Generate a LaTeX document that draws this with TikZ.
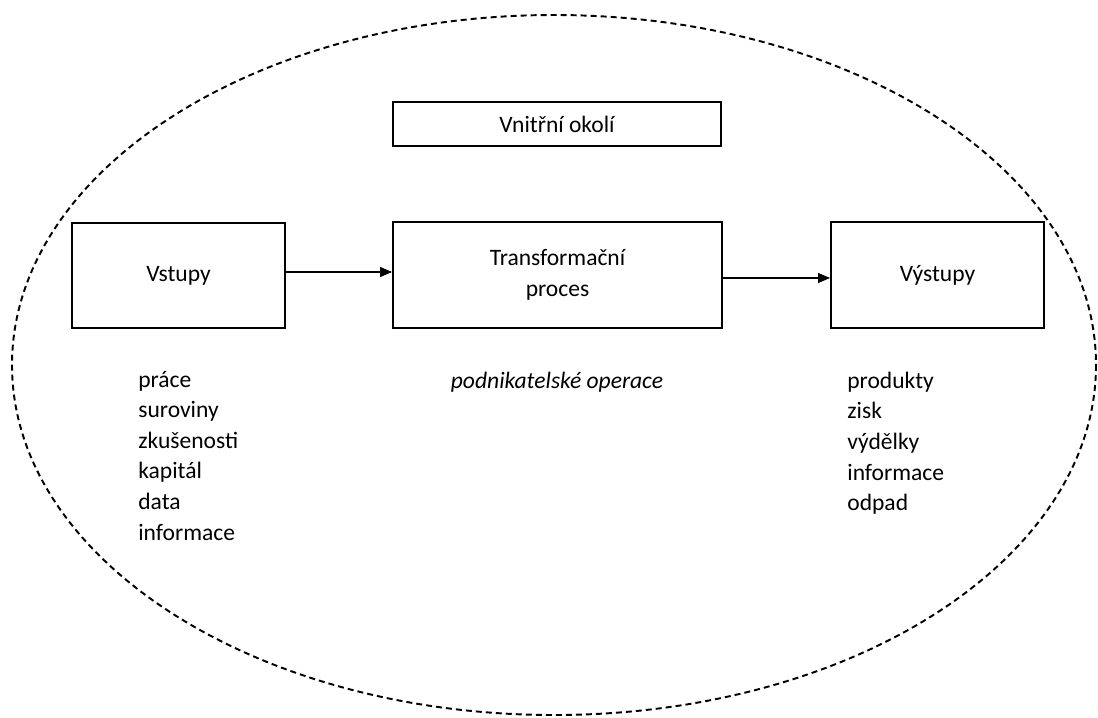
\documentclass[tikz,border=0pt]{standalone}
\usepackage{fontspec}
\setmainfont{Carlito}
\usetikzlibrary{arrows.meta}

\begin{document}
\begin{tikzpicture}[x=0.02cm, y=-0.02cm,
  font=\fontsize{13.4}{17.4}\selectfont,
  box/.style={draw, line width=1.1pt, inner sep=0pt, align=center},
  flow/.style={-{Triangle[length=0.24cm,width=0.2cm]}, line width=0.6pt},
  item/.style={inner sep=0pt, anchor=base west}]
    \useasboundingbox (0,0) rectangle (1098,717);
    % dashed border of the environment
    \draw[dash pattern=on 3.4pt off 2.3pt, line width=1.1pt] (554,365) ellipse [x radius=542, y radius=350];
    \node[box, minimum width=6.56cm, minimum height=0.88cm] (okoli) at (557,124) {Vnitřní okolí};
    \node[box, minimum width=4.26cm, minimum height=2.1cm] (vstupy) at (178.5,275.5) {Vstupy};
    \node[box, minimum width=6.58cm, minimum height=2.12cm] (proces) at (557.5,275) {Transformační\\proces};
    \node[box, minimum width=4.26cm, minimum height=2.12cm] (vystupy) at (937.5,275) {Výstupy};
    \draw[flow] ([yshift=0.07cm]vstupy.east) -- ([yshift=0.07cm]vstupy.east -| proces.west);
    \draw[flow] ([yshift=-0.06cm]proces.east) -- ([yshift=-0.06cm]proces.east -| vystupy.west);
    % lists under the boxes
    \foreach \t [count=\i from 0] in {práce,suroviny,zkušenosti,kapitál,data,informace}
      \node[item] (vst\i) at (138,387+30.6*\i) {\t};
    \node[inner sep=0pt, anchor=base, font=\fontsize{13.4}{17.4}\selectfont\itshape] (operace) at (557,388) {podnikatelské operace};
    \foreach \t [count=\i from 0] in {produkty,zisk,výdělky,informace,odpad}
      \node[item] (vys\i) at (847,388+30.7*\i) {\t};
\end{tikzpicture}
\end{document}
